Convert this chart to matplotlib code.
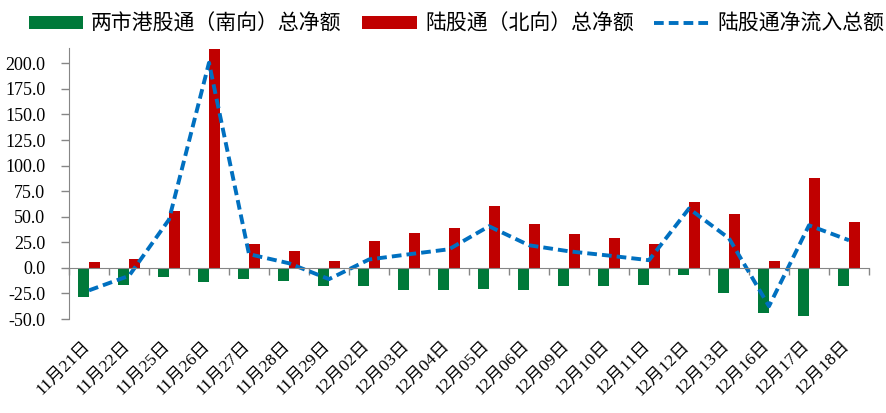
"""
Stock Connect daily net flows: southbound, northbound and total net inflow.
"""
import matplotlib
matplotlib.use('Agg')
import matplotlib.pyplot as plt
import matplotlib.transforms as mtransforms
import numpy as np

# Data
dates = ['11月21日', '11月22日', '11月25日', '11月26日', '11月27日', '11月28日',
         '11月29日', '12月02日', '12月03日', '12月04日', '12月05日', '12月06日',
         '12月09日', '12月10日', '12月11日', '12月12日', '12月13日', '12月16日',
         '12月17日', '12月18日']
southbound = [-28.0, -16.6, -8.5, -13.4, -10.4, -12.4, -18.2, -18.2, -21.2, -21.2,
              -20.2, -21.2, -17.3, -17.3, -16.3, -6.5, -24.1, -44.6, -46.6, -18.2]
northbound = [6.2, 8.8, 55.7, 214.0, 23.8, 16.9, 7.2, 26.4, 34.5, 39.4,
              60.9, 43.3, 33.5, 29.3, 23.8, 64.5, 53.0, 7.1, 88.2, 45.2]
total_inflow = [-22.0, -7.8, 47.2, 200.6, 13.4, 4.5, -11.0, 8.2, 13.3, 18.2,
                40.7, 22.1, 16.2, 12.0, 7.5, 58.0, 28.9, -37.5, 41.6, 27.0]
yticks = [-50, -25, 0, 25, 50, 75, 100, 125, 150, 175, 200]

GREEN = '#00793A'
RED = '#C00000'
BLUE = '#0070C0'
GREY = '#868686'

plt.rcParams['font.family'] = ['Liberation Serif', 'Noto Sans CJK SC', 'DejaVu Sans']
plt.rcParams['axes.unicode_minus'] = False

fig = plt.figure(figsize=(8.86, 4.13), dpi=100)
ax = fig.add_axes([69 / 886, 94 / 413, 800 / 886, 271 / 413])

x = np.arange(len(dates))
w = 0.28
b1 = ax.bar(x - w / 2, southbound, width=w, color=GREEN, label='两市港股通（南向）总净额', zorder=2)
b2 = ax.bar(x + w / 2, northbound, width=w, color=RED, label='陆股通（北向）总净额', zorder=2)
l1, = ax.plot(x, total_inflow, color=BLUE, lw=2.8, dashes=(2.5, 1.3), label='陆股通净流入总额', zorder=3)

ax.set_xlim(-0.5, len(dates) - 0.5)
ax.set_ylim(-50, 215)

# Spines: left axis plus the category axis sitting on zero
for side in ['top', 'right']:
    ax.spines[side].set_visible(False)
ax.spines['left'].set_color(GREY)
ax.spines['bottom'].set_color(GREY)
ax.spines['bottom'].set_position(('data', 0))
ax.spines['bottom'].set_zorder(4)

ax.set_yticks(yticks)
ax.set_yticklabels([f'{v:.1f}' for v in yticks], fontsize=13, family='Liberation Serif')
ax.tick_params(axis='y', direction='out', length=6, width=1, color=GREY, pad=11)

# Category ticks at the boundaries, labels placed manually below the plot
ax.set_xticks(np.arange(len(dates) + 1) - 0.5)
ax.set_xticklabels([])
ax.tick_params(axis='x', direction='out', length=5, width=1, color=GREY)

trans = mtransforms.blended_transform_factory(ax.transData, ax.transAxes)
for i, d in enumerate(dates):
    ax.text(i + 0.1, -0.07, d, transform=trans, rotation=45, ha='right', va='top',
            fontsize=12.5)

fig.legend(handles=[b1, b2, l1], loc='center', bbox_to_anchor=(0.515, 0.942), ncol=3,
           frameon=False, handlelength=2.6, handleheight=0.55, handletextpad=0.4,
           columnspacing=1.0, borderaxespad=0,
           prop={'family': ['Noto Sans CJK SC', 'DejaVu Sans'], 'size': 15})

fig.savefig('out.png', dpi=100)
